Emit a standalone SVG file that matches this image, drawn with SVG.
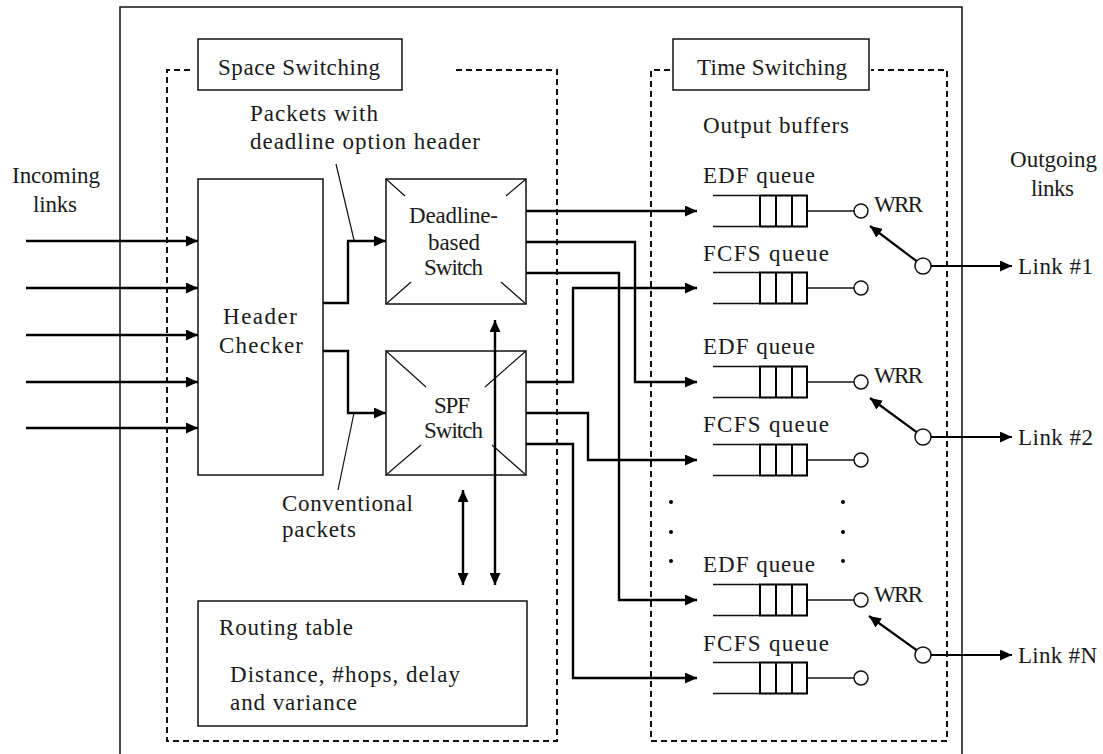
<svg xmlns="http://www.w3.org/2000/svg" width="1103" height="754" viewBox="0 0 1103 754">
<style>
.t{font-family:'Liberation Serif','Times New Roman',serif;font-size:23px;fill:#1a1a1a}
.box{fill:none;stroke:#111;stroke-width:1.5}
.thin{fill:none;stroke:#111;stroke-width:1.2}
.dash{fill:none;stroke:#111;stroke-width:2;stroke-dasharray:6 4}
.con{fill:none;stroke:#000;stroke-width:2.4}
.arr{marker-end:url(#ah)}
.cell{fill:none;stroke:#000;stroke-width:2}
.open{fill:none;stroke:#111;stroke-width:1.3}
.circ{fill:#fff;stroke:#111;stroke-width:1.5}
</style>
<defs>
<marker id="ah" markerUnits="userSpaceOnUse" markerWidth="13" markerHeight="11" refX="12" refY="5.5" orient="auto-start-reverse">
<path d="M0,0 L12,5.5 L0,11 z" fill="#000"/>
</marker>
<g id="queue">
<path class="open" d="M713,-15.5 H760 M713,15.5 H760"/>
<rect class="cell" x="760" y="-15.5" width="47" height="31"/>
<path class="cell" d="M776,-15.5 V15.5 M792,-15.5 V15.5"/>
<path class="open" d="M807,0 H854"/>
<circle class="circ" cx="861" cy="0" r="7"/>
</g>
</defs>
<rect width="1103" height="754" fill="#fff"/>

<g id="frame">
<path class="box" d="M120,754 V7 H962 V754"/>
</g>

<g id="space-switching">
<path class="dash" d="M190,70 H167 V741 H557 V70 H455"/>
<rect class="box" x="198" y="39" width="204" height="51" fill="#fff"/>
<text class="t" x="218" y="75" textLength="162" font-family="Liberation Serif, serif">Space Switching</text>
</g>

<g id="time-switching">
<path class="dash" d="M670,70 H651 V741 H947 V70 H871"/>
<rect class="box" x="673" y="39" width="196" height="51" fill="#fff"/>
<text class="t" x="697" y="75" textLength="150">Time Switching</text>
<text class="t" x="703" y="133" textLength="146">Output buffers</text>
</g>

<g id="incoming-label">
<text class="t" x="12" y="183" textLength="88">Incoming</text>
<text class="t" x="33" y="212" textLength="44">links</text>
</g>

<g id="outgoing-label">
<text class="t" x="1010" y="167" textLength="87">Outgoing</text>
<text class="t" x="1031" y="196" textLength="43">links</text>
</g>

<g id="header-checker">
<rect class="box" x="198" y="179" width="125" height="296"/>
<text class="t" x="223" y="324" textLength="74">Header</text>
<text class="t" x="219" y="353" textLength="84">Checker</text>
</g>

<g id="deadline-switch">
<rect class="box" x="386" y="179" width="140" height="125"/>
<path class="thin" d="M386,179 L405,196 M526,179 L506,196 M386,304 L411,282 M526,304 L501,282"/>
<text class="t" x="409" y="223" textLength="89">Deadline-</text>
<text class="t" x="428" y="250" textLength="52">based</text>
<text class="t" x="424" y="275" textLength="59">Switch</text>
</g>

<g id="spf-switch">
<rect class="box" x="386" y="351" width="140" height="124"/>
<path class="thin" d="M386,351 L426,387 M526,351 L485,387 M386,475 L421,445 M526,475 L492,445"/>
<text class="t" x="434" y="413" textLength="36">SPF</text>
<text class="t" x="424" y="438" textLength="59">Switch</text>
</g>

<g id="routing-table">
<rect class="box" x="198" y="601" width="329" height="125"/>
<text class="t" x="219" y="635" textLength="134">Routing table</text>
<text class="t" x="230" y="682" textLength="230">Distance, #hops, delay</text>
<text class="t" x="230" y="710" textLength="127">and variance</text>
</g>

<g id="labels">
<text class="t" x="250" y="121" textLength="128">Packets with</text>
<text class="t" x="250" y="149" textLength="230">deadline option header</text>
<text class="t" x="282" y="511" textLength="131">Conventional</text>
<text class="t" x="282" y="537" textLength="74">packets</text>
<path class="thin" d="M336,164 L354,240 M354,413 L338,490"/>
</g>

<g id="queues">
<use href="#queue" y="211"/>
<use href="#queue" y="288"/>
<use href="#queue" y="382"/>
<use href="#queue" y="460"/>
<use href="#queue" y="600"/>
<use href="#queue" y="678"/>
<text class="t" x="703" y="183" textLength="112">EDF queue</text>
<text class="t" x="703" y="261" textLength="126">FCFS queue</text>
<text class="t" x="703" y="354" textLength="112">EDF queue</text>
<text class="t" x="703" y="432" textLength="126">FCFS queue</text>
<text class="t" x="703" y="572" textLength="112">EDF queue</text>
<text class="t" x="703" y="651" textLength="126">FCFS queue</text>
<text class="t" x="874" y="212" textLength="49">WRR</text>
<text class="t" x="874" y="383" textLength="49">WRR</text>
<text class="t" x="874" y="602" textLength="49">WRR</text>
<g fill="#000">
<circle cx="671" cy="502" r="2"/><circle cx="671" cy="532" r="2"/><circle cx="671" cy="561" r="2"/>
<circle cx="843" cy="502" r="2"/><circle cx="843" cy="532" r="2"/><circle cx="843" cy="561" r="2"/>
</g>
</g>

<g id="selectors">
<circle class="circ" cx="923" cy="266" r="8"/>
<circle class="circ" cx="923" cy="437" r="8"/>
<circle class="circ" cx="923" cy="655" r="8"/>
<text class="t" x="1018" y="274" textLength="75">Link #1</text>
<text class="t" x="1018" y="445" textLength="75">Link #2</text>
<text class="t" x="1018" y="663" textLength="79">Link #N</text>
</g>

<g id="connectors">
<path class="con arr" d="M26,241 H198"/>
<path class="con arr" d="M26,288 H198"/>
<path class="con arr" d="M26,335 H198"/>
<path class="con arr" d="M26,382 H198"/>
<path class="con arr" d="M26,428 H198"/>
<path class="con arr" d="M323,303 H348 V241 H386"/>
<path class="con arr" d="M323,351 H348 V413 H386"/>
<path class="con arr" d="M526,211 H697"/>
<path class="con arr" d="M526,242 H635 V382 H697"/>
<path class="con arr" d="M526,273 H619 V600 H697"/>
<path class="con arr" d="M526,382 H573 V288 H697"/>
<path class="con arr" d="M526,413 H588 V460 H697"/>
<path class="con arr" d="M526,444 H573 V678 H697"/>
<path class="con arr" d="M495,320 V585" marker-start="url(#ah)"/>
<path class="con arr" d="M463,490 V585" marker-start="url(#ah)"/>
<path class="con arr" style="stroke-width:2.2" d="M916.6,261.2 L870,226"/>
<path class="con arr" style="stroke-width:2.2" d="M916.6,432.2 L870,398"/>
<path class="con arr" style="stroke-width:2.2" d="M916.6,650.2 L869,616"/>
<path class="con arr" style="stroke-width:2.2" d="M931,266 H1012"/>
<path class="con arr" style="stroke-width:2.2" d="M931,437 H1012"/>
<path class="con arr" style="stroke-width:2.2" d="M931,655 H1012"/>
</g>
</svg>
